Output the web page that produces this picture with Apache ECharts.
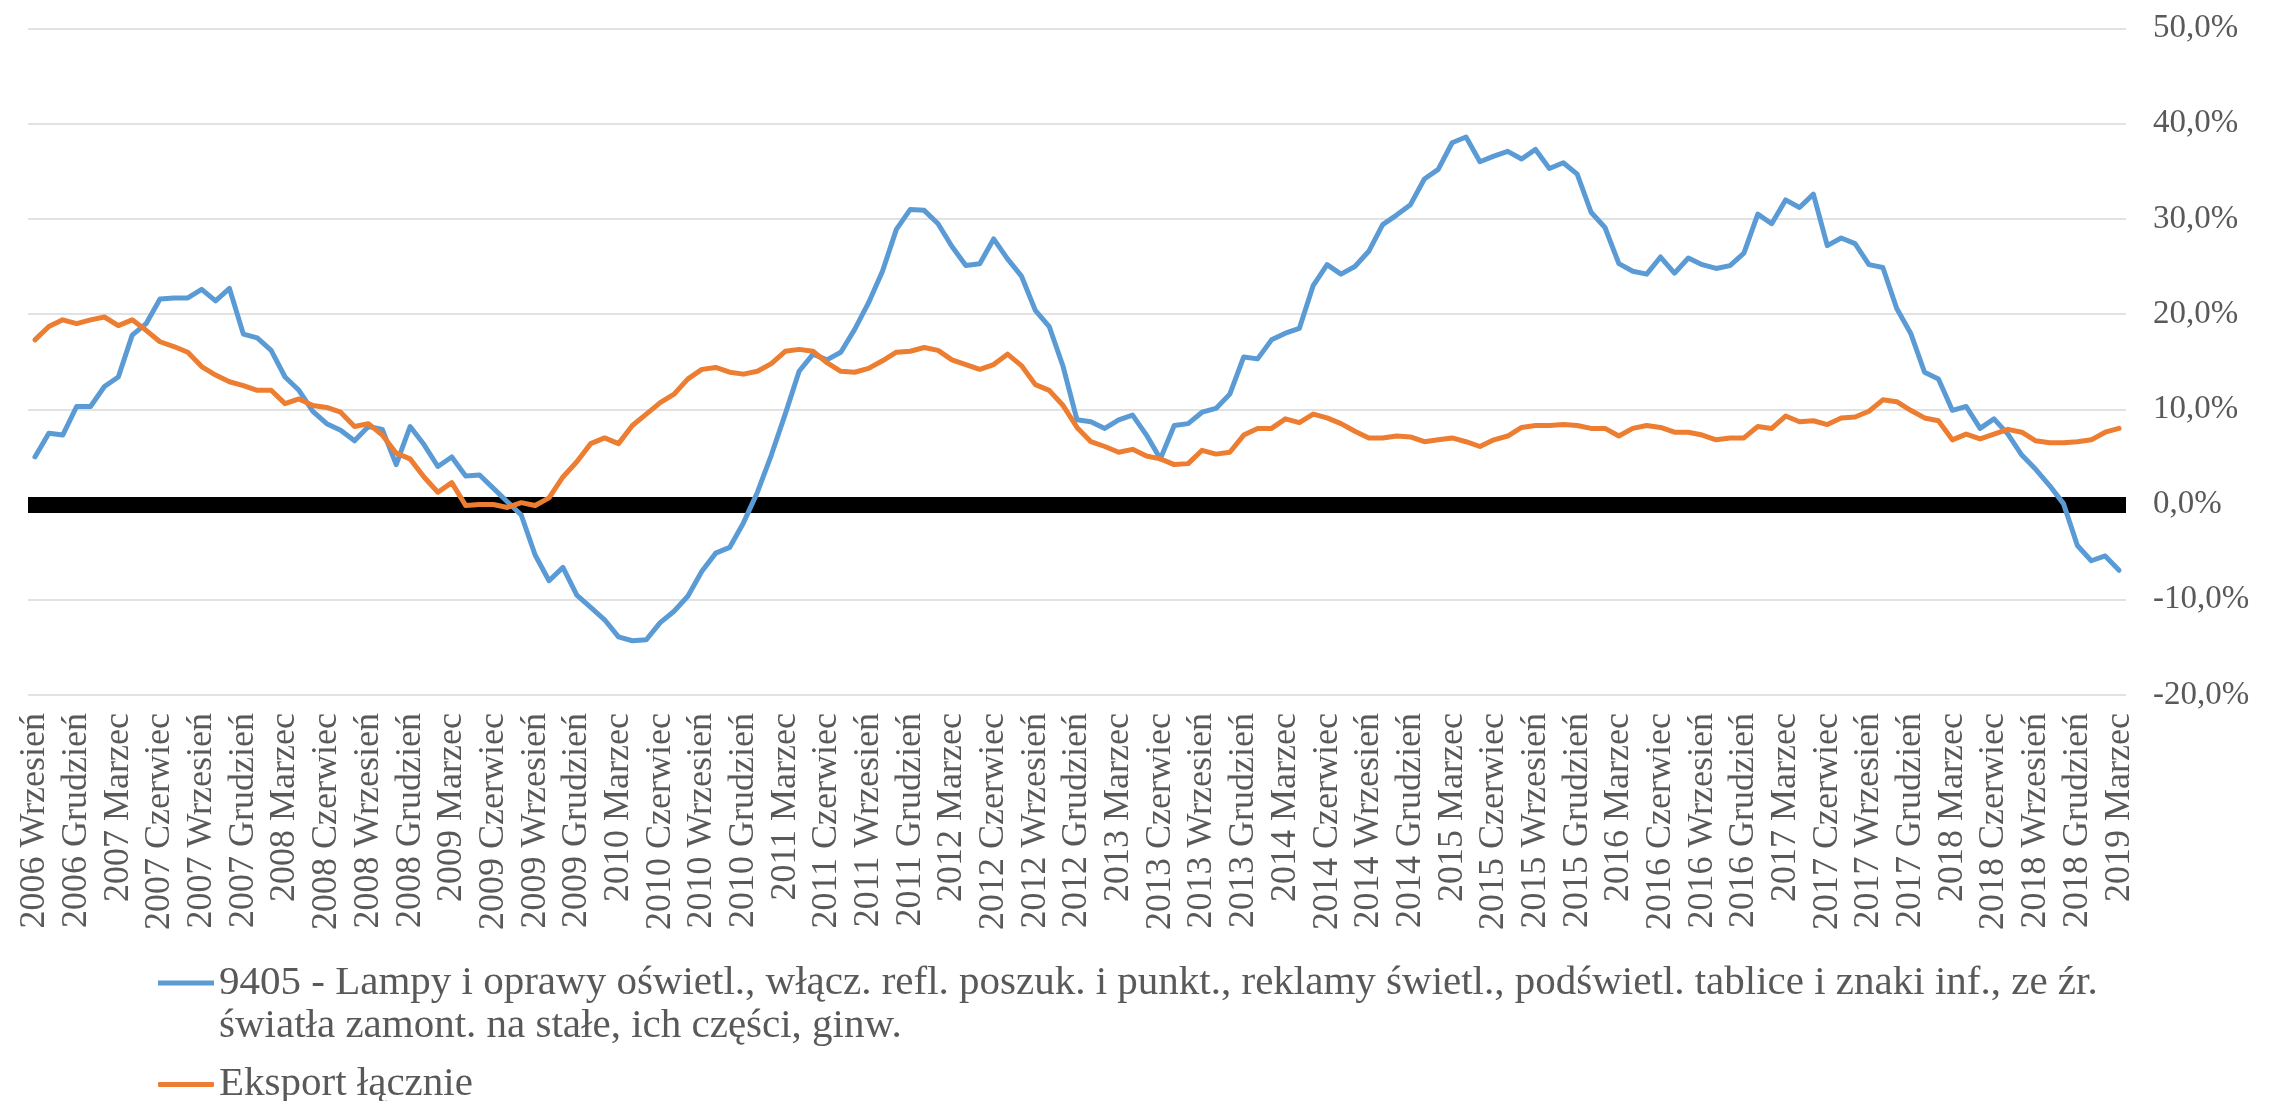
<!DOCTYPE html>
<html>
<head>
<meta charset="utf-8">
<script src="https://cdn.jsdelivr.net/npm/echarts@6/dist/echarts.min.js"></script>
<style>
html,body{margin:0;padding:0;background:#fff;}
#chart{width:2280px;height:1101px;}
</style>
</head>
<body>
<div id="chart"></div>
<script>
const monthNames = ['Styczeń','Luty','Marzec','Kwiecień','Maj','Czerwiec','Lipiec','Sierpień','Wrzesień','Październik','Listopad','Grudzień'];
const startYear = 2006, startMonth = 8, monthCount = 151;
const categories = [];
for (let k = 0; k < monthCount; k++) {
  const m = startMonth + k;
  categories.push((startYear + Math.floor(m / 12)) + ' ' + monthNames[m % 12]);
}

const seriesNames = [
  '9405 - Lampy i oprawy oświetl., włącz. refl. poszuk. i punkt., reklamy świetl., podświetl. tablice i znaki inf., ze źr. światła zamont. na stałe, ich części, ginw.',
  'Eksport łącznie'
];

const lampy = [
  5.0, 7.5, 7.3, 10.3, 10.3, 12.4, 13.4, 17.8, 19.0, 21.6,
  21.7, 21.7, 22.6, 21.4, 22.7, 17.9, 17.5, 16.2, 13.4, 12.0,
  9.8, 8.5, 7.8, 6.7, 8.2, 7.9, 4.2, 8.2, 6.3, 4.0,
  5.0, 3.0, 3.1, 1.7, 0.3, -1.1, -5.3, -8.0, -6.6, -9.5,
  -10.8, -12.1, -13.9, -14.3, -14.2, -12.4, -11.2, -9.6, -7.0, -5.1,
  -4.5, -1.9, 1.3, 5.2, 9.5, 14.0, 15.8, 15.2, 16.0, 18.4,
  21.2, 24.5, 28.9, 31.0, 30.9, 29.5, 27.1, 25.1, 25.3, 27.9,
  25.8, 24.0, 20.4, 18.7, 14.5, 8.9, 8.7, 8.0, 8.9, 9.4,
  7.3, 4.8, 8.3, 8.5, 9.7, 10.1, 11.6, 15.5, 15.3, 17.3,
  18.0, 18.5, 23.0, 25.2, 24.2, 25.0, 26.6, 29.4, 30.4, 31.5,
  34.2, 35.2, 38.0, 38.6, 36.0, 36.6, 37.1, 36.3, 37.3, 35.3,
  35.9, 34.7, 30.7, 29.1, 25.3, 24.5, 24.2, 26.0, 24.3, 25.9,
  25.2, 24.8, 25.1, 26.4, 30.5, 29.5, 32.0, 31.2, 32.6, 27.2,
  28.0, 27.4, 25.2, 24.9, 20.6, 18.0, 13.9, 13.2, 9.9, 10.3,
  8.0, 9.0, 7.4, 5.2, 3.7, 2.0, 0.1, -4.3, -5.9, -5.4, -6.9
];

const eksport = [
  17.3, 18.7, 19.4, 19.0, 19.4, 19.7, 18.8, 19.4, 18.3, 17.1,
  16.6, 16.0, 14.5, 13.6, 12.9, 12.5, 12.0, 12.0, 10.6, 11.1,
  10.4, 10.2, 9.7, 8.2, 8.5, 7.3, 5.4, 4.8, 2.9, 1.3,
  2.3, -0.1, 0.0, 0.0, -0.3, 0.2, -0.1, 0.7, 2.9, 4.5,
  6.4, 7.0, 6.4, 8.3, 9.5, 10.7, 11.6, 13.2, 14.2, 14.4,
  13.9, 13.7, 14.0, 14.8, 16.1, 16.3, 16.1, 14.9, 14.0, 13.9,
  14.3, 15.1, 16.0, 16.1, 16.5, 16.2, 15.2, 14.7, 14.2, 14.7,
  15.8, 14.6, 12.6, 12.0, 10.4, 8.1, 6.6, 6.1, 5.5, 5.8,
  5.1, 4.8, 4.2, 4.3, 5.7, 5.3, 5.5, 7.3, 8.0, 8.0,
  9.0, 8.6, 9.5, 9.1, 8.5, 7.7, 7.0, 7.0, 7.2, 7.1,
  6.6, 6.8, 7.0, 6.6, 6.1, 6.8, 7.2, 8.1, 8.3, 8.3,
  8.4, 8.3, 8.0, 8.0, 7.2, 8.0, 8.3, 8.1, 7.6, 7.6,
  7.3, 6.8, 7.0, 7.0, 8.2, 8.0, 9.3, 8.7, 8.8, 8.4,
  9.1, 9.2, 9.8, 11.0, 10.8, 9.9, 9.1, 8.8, 6.8, 7.4,
  6.9, 7.4, 7.9, 7.6, 6.7, 6.5, 6.5, 6.6, 6.8, 7.6, 8.0
];

const yMin = -20, yMax = 50, yStep = 10;

const FONT = '"Liberation Serif", "Times New Roman", serif';
const TEXT = '#595959';
const LEG_FS = 41, LEG_LH = 43;

// two-line legend icon: a thin bar aligned with the first text line
const twoLineIcon = 'path://M0,0h0.01v0.01h-0.01z M0,19h56v5h-56z M55.99,85.99h0.01v0.01h-0.01z';

const chart = echarts.init(document.getElementById('chart'));
chart.setOption({
  animation: false,
  backgroundColor: '#ffffff',
  grid: { left: 28, right: 154, top: 28.5, bottom: 406, containLabel: false },
  legend: [
    {
      data: [{ name: seriesNames[0], icon: twoLineIcon }],
      left: 158,
      top: 961.5,
      padding: 0,
      itemWidth: 56,
      itemHeight: 86,
      selectedMode: false,
      formatter: function (name) { return name.replace('ze źr. ', 'ze źr.\n'); },
      textStyle: { fontFamily: FONT, fontSize: LEG_FS, color: TEXT, lineHeight: LEG_LH }
    },
    {
      data: [{ name: seriesNames[1], icon: 'roundRect' }],
      left: 158,
      top: 1063,
      padding: 0,
      itemWidth: 56,
      itemHeight: 5,
      selectedMode: false,
      textStyle: { fontFamily: FONT, fontSize: LEG_FS, color: TEXT, lineHeight: LEG_LH }
    }
  ],
  xAxis: {
    type: 'category',
    data: categories,
    boundaryGap: true,
    axisLine: { show: false },
    axisTick: { show: false },
    splitLine: { show: false },
    axisLabel: {
      interval: 2,
      rotate: 90,
      margin: 18,
      fontFamily: FONT,
      fontSize: 36,
      color: TEXT
    }
  },
  yAxis: {
    type: 'value',
    position: 'right',
    min: yMin, max: yMax, interval: yStep,
    axisLine: { show: false },
    axisTick: { show: false },
    splitLine: { lineStyle: { color: '#d9d9d9', width: 1.5 } },
    axisLabel: {
      margin: 27,
      fontFamily: FONT,
      fontSize: 33,
      color: TEXT,
      formatter: function (v) { return v.toFixed(1).replace('.', ',') + '%'; }
    }
  },
  series: [
    {
      name: 'zero',
      type: 'line',
      data: [],
      z: 1,
      silent: true,
      markLine: {
        z: 1,
        silent: true,
        symbol: 'none',
        label: { show: false },
        lineStyle: { color: '#000000', width: 16, type: 'solid' },
        data: [{ yAxis: 0 }]
      }
    },
    {
      name: seriesNames[0],
      type: 'line',
      data: lampy,
      z: 10,
      showSymbol: false,
      color: '#5b9bd5',
      lineStyle: { color: '#5b9bd5', width: 5, cap: 'round', join: 'round' }
    },
    {
      name: seriesNames[1],
      type: 'line',
      data: eksport,
      z: 10,
      showSymbol: false,
      color: '#ed7d31',
      lineStyle: { color: '#ed7d31', width: 5, cap: 'round', join: 'round' }
    }
  ]
});
</script>
</body>
</html>
